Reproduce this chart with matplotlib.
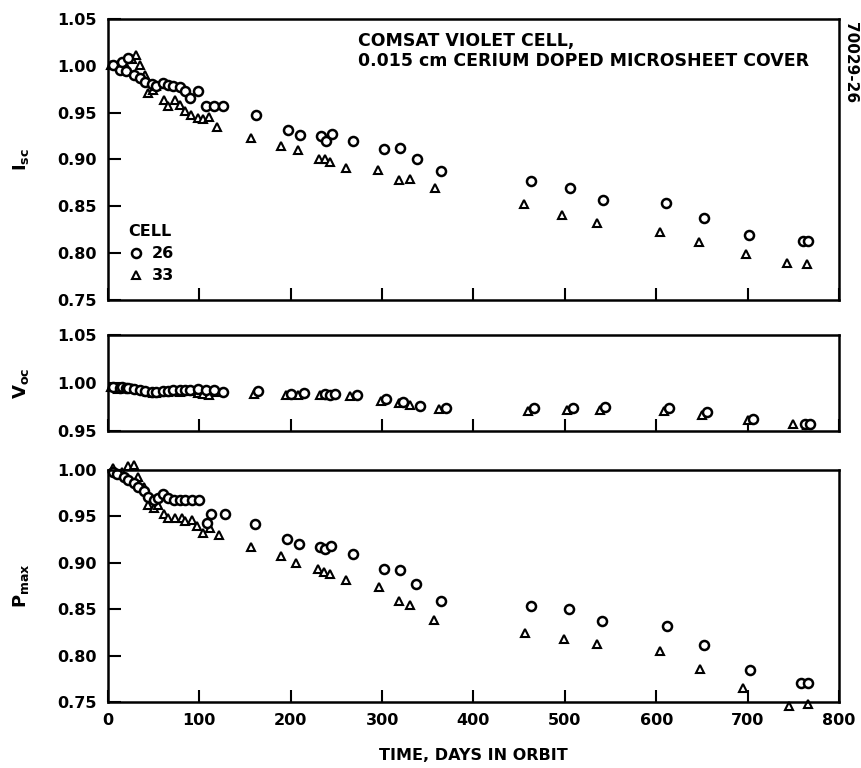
import matplotlib
matplotlib.use("Agg")
import matplotlib.pyplot as plt
from matplotlib.lines import Line2D

plt.rcParams['font.family'] = ['DejaVu Sans']
plt.rcParams['font.weight'] = 'bold'
plt.rcParams['axes.labelweight'] = 'bold'
plt.rcParams['mathtext.default'] = 'bf'

# I_sc
isc26_days = [6, 13, 15, 20, 22, 28, 35, 40, 48, 53, 60, 66, 71, 79, 84, 90, 99, 107, 116, 126,
              162, 197, 210, 233, 239, 245, 268, 302, 320, 338, 364, 463, 506, 542, 611, 652, 702, 761, 766]
isc26 = [1.001, 0.996, 1.004, 0.994, 1.008, 0.990, 0.987, 0.983, 0.981, 0.978, 0.982, 0.980, 0.978,
         0.977, 0.973, 0.966, 0.973, 0.957, 0.957, 0.957, 0.948, 0.932, 0.926, 0.925, 0.920, 0.927,
         0.920, 0.911, 0.912, 0.900, 0.888, 0.877, 0.870, 0.857, 0.854, 0.837, 0.819, 0.813, 0.813]
isc33_days = [3, 11, 17, 26, 31, 35, 40, 44, 49, 53, 61, 66, 73, 79, 84, 91, 99, 104, 111, 119,
              157, 189, 208, 231, 237, 243, 261, 295, 319, 330, 358, 455, 497, 535, 604, 647, 698, 743, 765]
isc33 = [1.001, 1.001, 1.004, 1.007, 1.012, 1.001, 0.990, 0.971, 0.974, 0.978, 0.964, 0.957, 0.964,
         0.958, 0.952, 0.948, 0.944, 0.943, 0.945, 0.935, 0.923, 0.914, 0.910, 0.900, 0.901, 0.897,
         0.891, 0.889, 0.878, 0.879, 0.870, 0.853, 0.841, 0.832, 0.823, 0.812, 0.799, 0.790, 0.788]

# V_oc
voc26_days = [6, 13, 15, 20, 22, 28, 35, 40, 48, 53, 60, 66, 71, 79, 84, 90, 99, 107, 116, 126,
              164, 200, 214, 238, 243, 248, 273, 304, 323, 341, 370, 466, 509, 544, 614, 656, 706, 763, 768]
voc26 = [0.996, 0.995, 0.996, 0.995, 0.995, 0.994, 0.993, 0.992, 0.991, 0.991, 0.992, 0.992, 0.993,
         0.993, 0.993, 0.993, 0.994, 0.993, 0.993, 0.991, 0.992, 0.989, 0.990, 0.989, 0.988, 0.989,
         0.987, 0.983, 0.980, 0.976, 0.974, 0.974, 0.974, 0.975, 0.974, 0.970, 0.963, 0.957, 0.957]
voc33_days = [3, 11, 17, 26, 31, 35, 40, 44, 49, 53, 61, 66, 73, 79, 84, 91, 99, 104, 111, 119,
              160, 195, 208, 232, 237, 243, 265, 299, 319, 330, 362, 460, 502, 538, 608, 650, 700, 750, 765]
voc33 = [0.996, 0.994, 0.995, 0.995, 0.994, 0.993, 0.992, 0.991, 0.990, 0.990, 0.991, 0.991, 0.992,
         0.991, 0.992, 0.992, 0.990, 0.989, 0.987, 0.991, 0.989, 0.987, 0.987, 0.988, 0.988, 0.987,
         0.986, 0.981, 0.979, 0.977, 0.973, 0.971, 0.972, 0.972, 0.971, 0.967, 0.961, 0.957, 0.956]

# P_max
pmax26_days = [6, 10, 17, 22, 28, 33, 39, 44, 50, 55, 60, 66, 72, 79, 84, 92, 100, 108, 113, 128,
               161, 196, 209, 232, 237, 244, 268, 302, 320, 337, 364, 463, 505, 541, 612, 652, 703, 758, 766]
pmax26 = [0.998, 0.996, 0.993, 0.989, 0.986, 0.982, 0.977, 0.971, 0.968, 0.970, 0.974, 0.970, 0.968,
          0.968, 0.968, 0.968, 0.968, 0.943, 0.953, 0.953, 0.942, 0.926, 0.920, 0.917, 0.915, 0.918,
          0.910, 0.893, 0.892, 0.877, 0.859, 0.853, 0.850, 0.837, 0.832, 0.811, 0.785, 0.770, 0.770]
pmax33_days = [6, 15, 22, 28, 33, 39, 44, 50, 55, 61, 66, 73, 81, 84, 92, 97, 104, 112, 122,
               156, 189, 206, 230, 236, 243, 261, 297, 318, 330, 357, 456, 499, 535, 604, 648, 695, 745, 766]
pmax33 = [1.002, 0.998, 1.004, 1.005, 0.993, 0.982, 0.962, 0.959, 0.962, 0.953, 0.948, 0.948, 0.948,
          0.945, 0.946, 0.940, 0.932, 0.937, 0.930, 0.917, 0.907, 0.900, 0.893, 0.890, 0.888, 0.881,
          0.874, 0.859, 0.855, 0.838, 0.824, 0.818, 0.812, 0.805, 0.786, 0.765, 0.746, 0.748]

x_ticks = [0, 100, 200, 300, 400, 500, 600, 700, 800]

circ = dict(marker='o', ms=6.5, mfc='white', mec='black', mew=1.8, ls='none', clip_on=False)
tri = dict(marker='^', ms=5.8, mfc='white', mec='black', mew=1.5, ls='none', clip_on=False)

fig = plt.figure(figsize=(8.61, 7.68), dpi=100)
L, R = 0.1254, 0.9744
ax1 = fig.add_axes([L, 0.6094, R - L, 0.9753 - 0.6094])
ax2 = fig.add_axes([L, 0.4388, R - L, 0.5638 - 0.4388])
ax3 = fig.add_axes([L, 0.0859, R - L, 0.3880 - 0.0859])

panels = [
    (ax1, isc26_days, isc26, isc33_days, isc33, (0.75, 1.05), [0.75, 0.80, 0.85, 0.90, 0.95, 1.00, 1.05], r'$I_{sc}$'),
    (ax2, voc26_days, voc26, voc33_days, voc33, (0.95, 1.05), [0.95, 1.00, 1.05], r'$V_{oc}$'),
    (ax3, pmax26_days, pmax26, pmax33_days, pmax33, (0.75, 1.00), [0.75, 0.80, 0.85, 0.90, 0.95, 1.00], r'$P_{max}$'),
]

for ax, d26, v26, d33, v33, ylim, yt, lab in panels:
    ax.plot(d33, v33, **tri)
    ax.plot(d26, v26, **circ)
    ax.set_xlim(0, 800)
    ax.set_ylim(*ylim)
    ax.set_yticks(yt)
    ax.set_yticklabels(['%.2f' % v for v in yt])
    ax.set_xticks(x_ticks)
    ax.tick_params(direction='in', length=9, width=1.5, labelsize=11.5, pad=8)
    for s in ax.spines.values():
        s.set_linewidth(1.8)
    ax.set_ylabel(lab, fontsize=13)
    ax.yaxis.set_label_coords(-0.105, 0.5)
    if ax is not ax3:
        ax.tick_params(labelbottom=False)

ax3.set_xlabel('TIME, DAYS IN ORBIT', fontsize=11.5, fontweight='bold', labelpad=14)

ax1.text(0.342, 0.955, 'COMSAT VIOLET CELL,\n0.015 cm CERIUM DOPED MICROSHEET COVER',
         transform=ax1.transAxes, ha='left', va='top', fontsize=12.5, linespacing=1.15)
fig.text(0.988, 0.918, '70029-26', rotation=-90, ha='center', va='center', fontsize=11)

handles = [Line2D([], [], **circ), Line2D([], [], **tri)]
leg = ax1.legend(handles, ['26', '33'], title='CELL', loc='upper left', bbox_to_anchor=(0.012, 0.31),
                 frameon=False, fontsize=11.5, title_fontproperties={'weight': 'bold', 'size': 11.5},
                 handlelength=1.0, handletextpad=0.5, labelspacing=0.45, alignment='left',
                 borderpad=0.2)

fig.savefig('out.png', dpi=100)
